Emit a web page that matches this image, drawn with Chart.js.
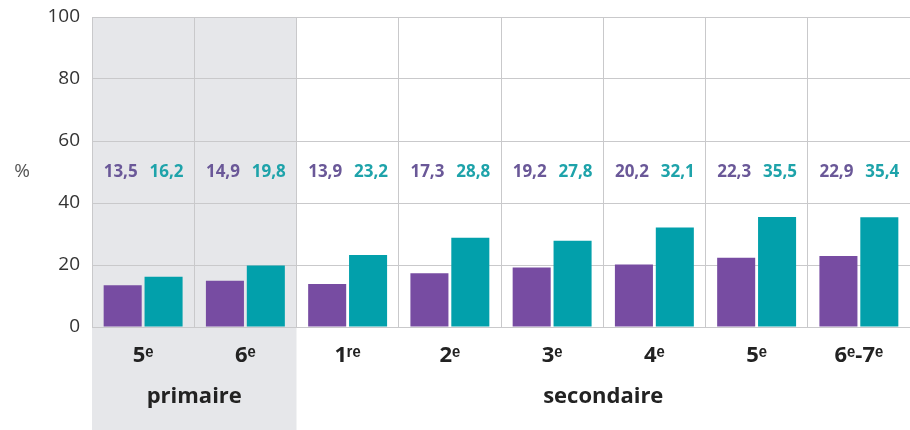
<!DOCTYPE html>
<html>
<head>
<meta charset="utf-8">
<script src="https://cdn.jsdelivr.net/npm/chart.js@4"></script>
<style>
  html, body { margin: 0; padding: 0; background: #fff; }
  #wrap { width: 910px; height: 430px; }
</style>
</head>
<body>
<div id="wrap"><canvas id="myChart" width="910" height="430"></canvas></div>
<script>
// categories (grade levels), with the superscript ordinal marks
let grades = ["5ᵉ", "6ᵉ", "1ʳᵉ", "2ᵉ", "3ᵉ", "4ᵉ", "5ᵉ", "6ᵉ-7ᵉ"];
// which school level each grade belongs to
let levels = ["primaire", "primaire", "secondaire", "secondaire", "secondaire", "secondaire", "secondaire", "secondaire"];
let serieA = [13.5, 14.9, 13.9, 17.3, 19.2, 20.2, 22.3, 22.9];
let serieB = [16.2, 19.8, 23.2, 28.8, 27.8, 32.1, 35.5, 35.4];
let yTicks = [0, 20, 40, 60, 80, 100];

let purple = "#774ca2";
let teal = "#02a0ab";
let purpleText = "#6a5898";
let tealText = "#1ea3aa";
let font = "'Open Sans', sans-serif";

// grey band behind the primaire columns
let bandPlugin = {
    id: "band",
    beforeDraw(chart) {
        let c = chart.ctx;
        let x = chart.scales.x;
        let area = chart.chartArea;
        let half = (x.getPixelForValue(1) - x.getPixelForValue(0)) / 2;
        let first = levels.indexOf("primaire");
        let last = levels.lastIndexOf("primaire");
        c.save();
        c.fillStyle = "#e6e7ea";
        c.fillRect(x.getPixelForValue(first) - half, area.top,
            x.getPixelForValue(last) - x.getPixelForValue(first) + 2 * half, chart.height - area.top);
        c.restore();
    },
};

// value labels, "%" sign and level names
let textPlugin = {
    id: "texts",
    afterDraw(chart) {
        let c = chart.ctx;
        let x = chart.scales.x;
        let y = chart.scales.y;
        let ly = y.getPixelForValue(50);
        c.save();
        c.font = "bold 17px " + font;
        c.textAlign = "center";
        c.textBaseline = "middle";
        [[0, purpleText], [1, tealText]].forEach(([i, col]) => {
            let meta = chart.getDatasetMeta(i);
            c.fillStyle = col;
            meta.data.forEach((bar, j) => {
                let v = chart.data.datasets[i].data[j];
                c.fillText(v.toFixed(1).replace(".", ","), bar.x - (i === 0 ? 2 : -3), ly);
            });
        });

        c.fillStyle = "#555";
        c.font = "19px " + font;
        c.fillText("%", 22, ly);

        c.fillStyle = "#222";
        c.font = "bold 22px " + font;
        let names = [...new Set(levels)];
        names.forEach(n => {
            let a = levels.indexOf(n), b = levels.lastIndexOf(n);
            let cx = (x.getPixelForValue(a) + x.getPixelForValue(b)) / 2;
            c.fillText(n, cx, 397);
        });
        c.restore();
    },
};

let ctx = document.getElementById("myChart").getContext("2d");
let myChart = new Chart(ctx, {
    type: "bar",
    data: {
        labels: grades,
        datasets: [
            { label: "A", data: serieA, backgroundColor: purple },
            { label: "B", data: serieB, backgroundColor: teal },
        ],
    },
    options: {
        responsive: false,
        animation: false,
        devicePixelRatio: 1,
        layout: { padding: { top: 17, right: 0, left: 0, bottom: 0 } },
        datasets: { bar: { categoryPercentage: 0.8, barPercentage: 0.93 } },
        plugins: { legend: { display: false }, tooltip: { enabled: false } },
        scales: {
            x: {
                grid: { offset: true, color: "#c9c9cb", drawTicks: false, lineWidth: 1 },
                border: { display: false },
                ticks: { color: "#222", font: { family: font, size: 22, weight: "bold" }, padding: 16, maxRotation: 0 },
                afterFit: s => { s.height = 103; s.paddingLeft = 0; s.paddingRight = 0; },
            },
            y: {
                min: 0,
                max: 100,
                afterBuildTicks: s => { s.ticks = yTicks.map(v => ({ value: v })); },
                grid: { color: "#c9c9cb", drawTicks: false, lineWidth: 1 },
                border: { display: false },
                ticks: { color: "#333", font: { family: font, size: 19 }, padding: 12 },
                afterFit: s => { s.width = 92; s.paddingTop = 0; s.paddingBottom = 0; },
            },
        },
    },
    plugins: [bandPlugin, textPlugin],
});
</script>
</body>
</html>
